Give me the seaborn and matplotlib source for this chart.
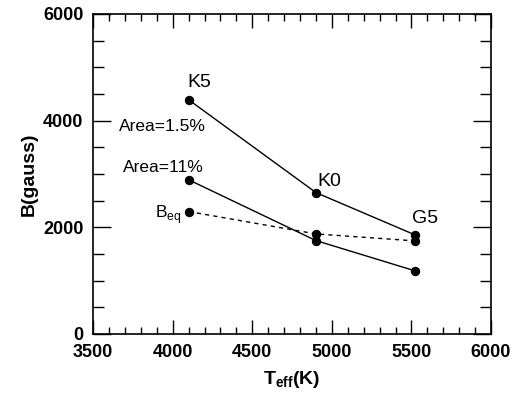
import matplotlib
matplotlib.use('Agg')
import matplotlib.pyplot as plt
import seaborn as sns
import pandas as pd
from matplotlib.ticker import MultipleLocator

# spectral types and effective temperatures (K)
spectral_types = ['K5', 'K0', 'G5']
t_eff = [4100, 4900, 5520]

# field strengths (gauss)
b_area_1_5 = [4390, 2650, 1860]
b_area_11 = [2890, 1750, 1185]
b_eq = [2295, 1875, 1745]

sns.set_style('ticks')
plt.rcParams['font.family'] = ['Liberation Sans', 'DejaVu Sans']
plt.rcParams.update({'text.color': 'black', 'axes.labelcolor': 'black',
                     'xtick.color': 'black', 'ytick.color': 'black',
                     'axes.edgecolor': 'black'})

df = pd.DataFrame({
    'T': t_eff * 3,
    'B': b_area_1_5 + b_area_11 + b_eq,
    'series': ['1.5'] * 3 + ['11'] * 3 + ['eq'] * 3,
})

fig = plt.figure(figsize=(5.12, 3.98), dpi=100)
ax = fig.add_axes([0.182, 0.161, 0.777, 0.804])

sns.lineplot(data=df, x='T', y='B', hue='series', style='series',
             palette=['black'] * 3, dashes={'1.5': '', '11': '', 'eq': (3, 3)},
             markers={'1.5': 'o', '11': 'o', 'eq': 'o'}, markersize=6,
             markeredgecolor='black', linewidth=1.0, legend=False, ax=ax)

ax.set_xlim(3500, 6000)
ax.set_ylim(0, 6000)
ax.xaxis.set_major_locator(MultipleLocator(500))
ax.xaxis.set_minor_locator(MultipleLocator(100))
ax.yaxis.set_major_locator(MultipleLocator(2000))
ax.yaxis.set_minor_locator(MultipleLocator(500))
ax.tick_params(which='both', direction='in', top=True, right=True, width=1.0)
ax.tick_params(axis='x', which='major', length=10, pad=7)
ax.tick_params(axis='x', which='minor', length=5)
ax.tick_params(axis='y', which='major', length=13, pad=7)
ax.tick_params(axis='y', which='minor', length=8)
for lab in ax.get_xticklabels() + ax.get_yticklabels():
    lab.set_fontsize(13)
    lab.set_fontweight('bold')
for sp in ax.spines.values():
    sp.set_linewidth(1.2)

ax.set_xlabel(r'T$_{\mathregular{eff}}$(K)', fontsize=14,
              fontweight='bold', labelpad=6)
ax.set_ylabel('B(gauss)', fontsize=14, fontweight='bold', labelpad=4)

# spectral type labels above the top curve
ax.annotate(spectral_types[0], (t_eff[0], b_area_1_5[0]), xytext=(-1, 6),
            textcoords='offset points', fontsize=14, va='bottom')
ax.annotate(spectral_types[1], (t_eff[1], b_area_1_5[1]), xytext=(1, 8),
            textcoords='offset points', fontsize=14, va='center')
ax.annotate(spectral_types[2], (t_eff[2], b_area_1_5[2]), xytext=(-2, 12),
            textcoords='offset points', fontsize=14, va='center')

# series labels
ax.annotate('Area=1.5%', (t_eff[0], b_area_1_5[0]), xytext=(-50, -19.5),
            textcoords='offset points', fontsize=12.5, va='center')
ax.annotate('Area=11%', (t_eff[0], b_area_11[0]), xytext=(-47, 9),
            textcoords='offset points', fontsize=12.5, va='center')
ax.annotate(r'B$_{\mathregular{eq}}$', (t_eff[0], b_eq[0]), xytext=(-24, -2),
            textcoords='offset points', fontsize=12.5, va='center')

fig.savefig('out.png', dpi=100)
